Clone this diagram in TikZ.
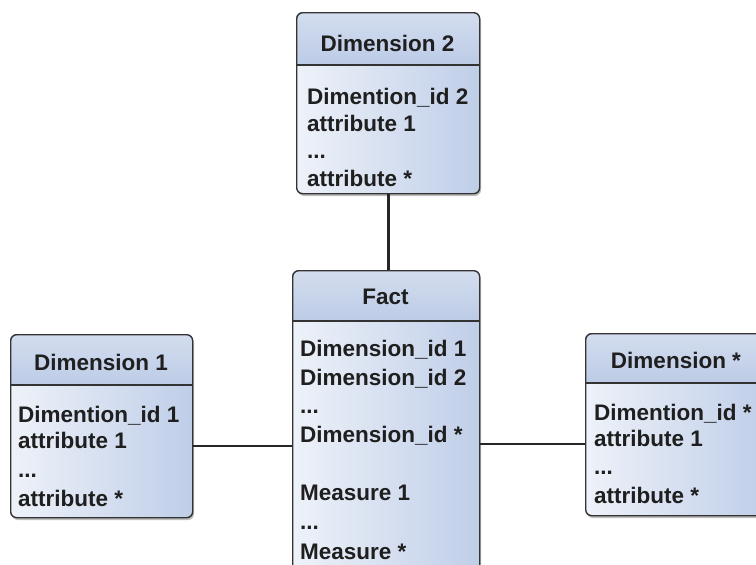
\documentclass[tikz,border=0pt]{standalone}
\usepackage{fontspec}
\setmainfont{Liberation Sans}
\begin{document}
\begin{tikzpicture}[x=1pt,y=-1pt,
  boxline/.style={draw=black!80,line width=1.4pt,rounded corners=6pt},
  sepline/.style={draw=black!80,line width=1.2pt},
  conn/.style={draw=black!85,line width=2.8pt},
  txt/.style={anchor=base west,inner sep=0pt,font=\fontsize{22.5}{27}\selectfont\bfseries,text=black!88},
  head/.style={anchor=base,inner sep=0pt,font=\fontsize{22.5}{27}\selectfont\bfseries,text=black!88}]
\definecolor{hdtop}{HTML}{D3DDEE}
\definecolor{hdbot}{HTML}{BCCBE6}
\definecolor{bdleft}{HTML}{EEF2F9}
\definecolor{bdright}{HTML}{BFCEE8}
\useasboundingbox (0,0) rectangle (756,565);
\clip (0,0) rectangle (756,565);
% box macro: name, x, y, w, h, header height
\newcommand\umlframe[6]{%
  \fill[black!25,rounded corners=6pt] (#2+2,#3+3) rectangle ++(#4,#5);
  \begin{scope}
    \clip[rounded corners=6pt] (#2,#3) rectangle ++(#4,#5);
    \shade[left color=bdleft,right color=bdright] (#2,#3+#6) rectangle ++(#4,#5-#6);
    \shade[top color=hdtop,bottom color=hdbot] (#2,#3) rectangle ++(#4,#6);
  \end{scope}
  \node[boxline,anchor=north west,inner sep=0pt,minimum width=#4pt,minimum height=#5pt] (#1) at (#2,#3) {};
  \draw[sepline] (#2,#3+#6) -- ++(#4,0);
}
% boxes
\umlframe{dimtwo}{296}{12}{183}{181}{53}
\umlframe{fact}{292}{270}{187}{330}{51}
\umlframe{dimone}{10}{334}{182}{183}{51}
\umlframe{dimstar}{585}{333}{183}{182}{50}
% connectors
\coordinate (cy1) at (0,446);
\coordinate (cy2) at (0,444);
\draw[conn] (dimtwo.south) -- (dimtwo.south |- fact.north);
\draw[conn] (dimone.east |- cy1) -- (fact.west |- cy1);
\draw[conn] (fact.east |- cy2) -- (dimstar.west |- cy2);
% Dimension 2
\node[head] (d2h) at (387.5,51) {Dimension 2};
\node[txt] (d2a) at (307,104) {Dimention\_id 2};
\node[txt] (d2b) at (307,131) {attribute 1};
\node[txt] (d2c) at (307,158) {...};
\node[txt] (d2d) at (307,186) {attribute *};
% Fact
\node[head] (fh) at (385.5,304) {Fact};
\node[txt] (fa) at (300,356) {Dimension\_id 1};
\node[txt] (fb) at (300,385) {Dimension\_id 2};
\node[txt] (fc) at (300,413) {...};
\node[txt] (fd) at (300,442) {Dimension\_id *};
\node[txt] (fe) at (300,500) {Measure 1};
\node[txt] (ff) at (300,529) {...};
\node[txt] (fg) at (300,559) {Measure *};
% Dimension 1
\node[head] (d1h) at (101,370) {Dimension 1};
\node[txt] (d1a) at (18,422) {Dimention\_id 1};
\node[txt] (d1b) at (18,448) {attribute 1};
\node[txt] (d1c) at (18,477) {...};
\node[txt] (d1d) at (18,506) {attribute *};
% Dimension *
\node[head] (dsh) at (676,368) {Dimension *};
\node[txt] (dsa) at (594,420) {Dimention\_id *};
\node[txt] (dsb) at (594,446) {attribute 1};
\node[txt] (dsc) at (594,474) {...};
\node[txt] (dsd) at (594,503) {attribute *};
\end{tikzpicture}
\end{document}
